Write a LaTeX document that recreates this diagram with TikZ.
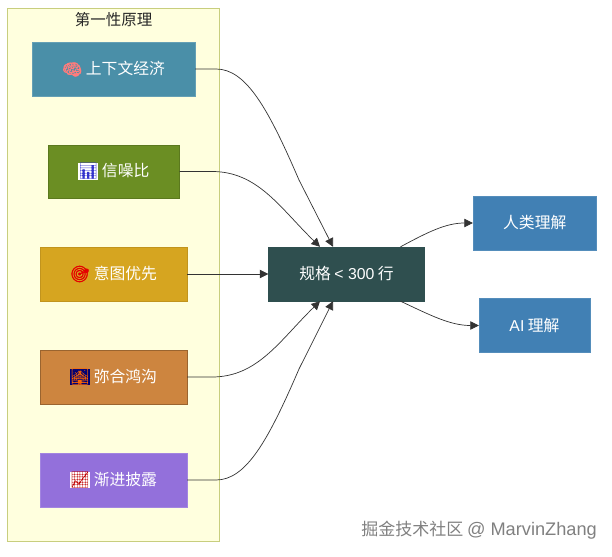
\documentclass[tikz,border=0pt]{standalone}
\usepackage{fontspec}
\setmainfont{Liberation Sans}
\newfontfamily\cjk{Noto Sans CJK SC}
\newfontfamily\emo[FakeBold=2.5]{Noto Emoji}
\newfontfamily\emothin{Noto Emoji}
\usetikzlibrary{arrows.meta,calc}
\definecolor{clfill}{HTML}{FFFFDE}
\definecolor{cldraw}{HTML}{C8CE7E}
\definecolor{cA}{HTML}{4A8FA8}
\definecolor{cB}{HTML}{6B8E23}
\definecolor{cC}{HTML}{D6A520}
\definecolor{cD}{HTML}{CD853F}
\definecolor{cE}{HTML}{9370DB}
\definecolor{cS}{HTML}{2F4F4F}
\definecolor{cO}{HTML}{4180B4}
\definecolor{edge}{HTML}{333333}
\tikzset{
  box/.style={rectangle,inner sep=0pt,text=white,font=\cjk\fontsize{15.8}{18}\selectfont},
  conn/.style={draw=edge,line width=0.7pt,-{Triangle[length=8.5pt,width=8.5pt]}},
  titletext/.style={font=\cjk\fontsize{15.5}{18}\selectfont,text=black!85},
  marktext/.style={font=\cjk\fontsize{17}{18}\selectfont,text=black!50}
}
\newcommand{\icon}[2]{{\emo\fontsize{16}{18}\selectfont\textcolor{#1}{#2}}}
\newcommand{\iconbg}[3]{{\setlength{\fboxsep}{0pt}\colorbox{#1}{\emothin\fontsize{16}{16}\selectfont\textcolor{#2}{#3}}}}
\begin{document}
\begin{tikzpicture}[x=1pt,y=-1pt]
\useasboundingbox (0,0) rectangle (612,556);
\node[draw=cldraw,fill=clfill,line width=0.9pt,rectangle,inner sep=0pt,minimum width=212pt,minimum height=533pt] (cluster) at (113.5,274.5) {};
\node[titletext] (title) at (113.5,20) {第一性原理};
\node[box,fill=cA,draw=cA!85!white,minimum width=163pt,minimum height=54pt] (a) at (113.5,69) {\icon{red!35!pink}{🧠} 上下文经济};
\node[box,fill=cB,draw=cB!85!black,minimum width=131.5pt,minimum height=53pt] (b) at (113.75,171.5) {\iconbg{white}{blue!60!gray}{📊} 信噪比};
\node[box,fill=cC,draw=cC!90!black,minimum width=147pt,minimum height=54pt] (c) at (113.5,274) {\icon{red!90!black}{🎯} 意图优先};
\node[box,fill=cD,draw=cD!75!black,minimum width=147pt,minimum height=54pt] (d) at (113.5,377) {\iconbg{blue!45!black}{orange!80!red}{🌉} 弥合鸿沟};
\node[box,fill=cE,draw=cE!85!white,minimum width=147pt,minimum height=54pt] (e) at (113.5,480) {\iconbg{white}{red!75!black}{📈} 渐进披露};
\node[box,fill=cS,draw=cS,minimum width=156pt,minimum height=54pt] (s) at (346.5,274) {\cjk 规格 {\rmfamily\fontsize{15.8}{18}\selectfont <\ 300} 行};
\node[box,fill=cO,draw=cO!90!white,minimum width=123.5pt,minimum height=54pt] (h) at (534.75,223) {人类理解};
\node[box,fill=cO,draw=cO!90!white,minimum width=111pt,minimum height=54pt] (i) at (534.5,325.5) {{\rmfamily\fontsize{15.8}{18}\selectfont AI} 理解};
\node[marktext,anchor=east,inner sep=0pt] (wm) at (597,530) {掘金技术社区 {\rmfamily\fontsize{18.2}{18}\selectfont @ MarvinZhang}};
\draw[conn] (a.east) -- (216,69) .. controls (246,69) and (268,108) .. (299,180) -- ([xshift=-13.5pt]s.north);
\draw[conn] (b.east) -- (212,171.5) .. controls (258,171.5) and (280,208) .. ([xshift=-26.5pt]s.north);
\draw[conn] (c.east) -- (s.west);
\draw[conn] (d.east) -- (212,377) .. controls (258,377) and (280,340) .. ([xshift=-26.5pt]s.south);
\draw[conn] (e.east) -- (216,480) .. controls (246,480) and (268,441) .. (299,369) -- ([xshift=-13.5pt]s.south);
\draw[conn] ([xshift=54pt]s.north) .. controls (428,232) and (446,223) .. (h.west);
\draw[conn] ([xshift=54pt]s.south) .. controls (430,315) and (450,325.5) .. (i.west);
\end{tikzpicture}
\end{document}
